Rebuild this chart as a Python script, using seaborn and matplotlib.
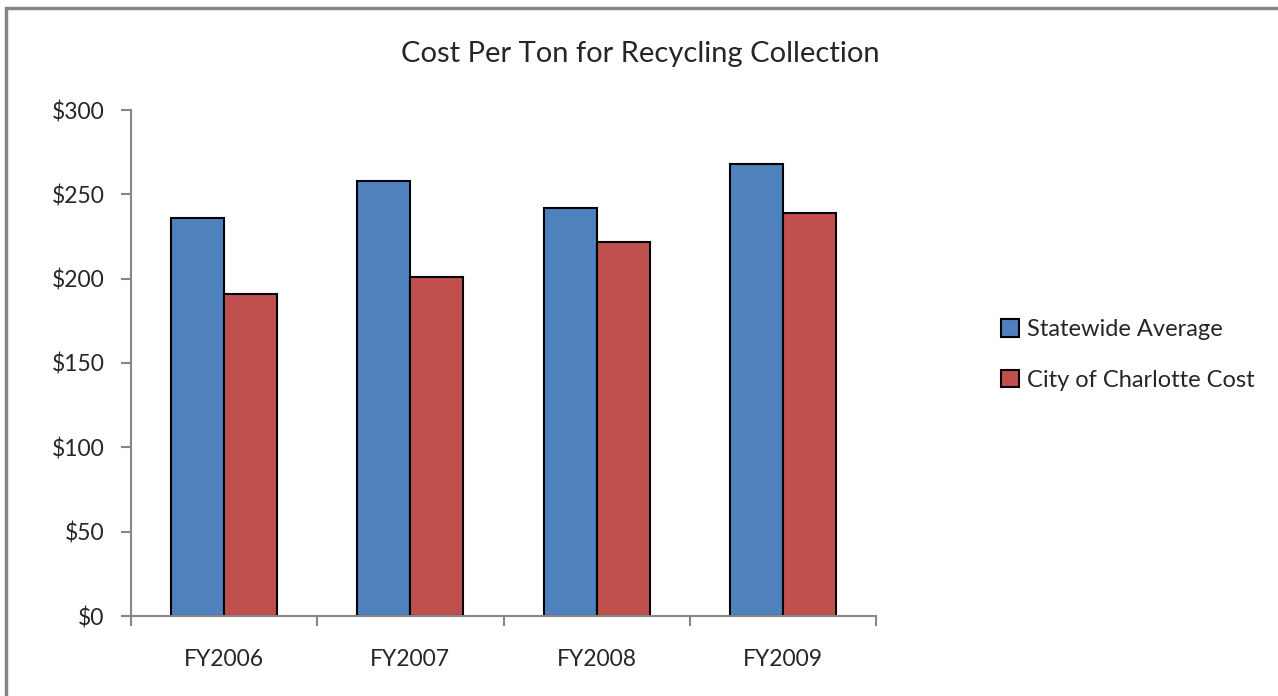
import matplotlib
matplotlib.use("Agg")
import matplotlib.pyplot as plt
import matplotlib.patches as mpatches
import seaborn as sns
import pandas as pd
import numpy as np

# Data
categories = ["FY2006", "FY2007", "FY2008", "FY2009"]
statewide = [236, 258, 242, 268]
charlotte = [191, 201, 222, 239]
series_names = ["Statewide Average", "City of Charlotte Cost"]
y_ticks = [0, 50, 100, 150, 200, 250, 300]

df = pd.DataFrame({
    "Year": categories * 2,
    "Cost": statewide + charlotte,
    "Series": [series_names[0]] * 4 + [series_names[1]] * 4,
})

sns.set_theme(style="white")
plt.rcParams["font.family"] = ["Lato", "DejaVu Sans"]

fig = plt.figure(figsize=(12.78, 6.96), dpi=100)
ax = fig.add_axes([131 / 1278, 80 / 696, 745 / 1278, 506 / 696])

palette = {series_names[0]: "#4F81BD", series_names[1]: "#C0504D"}
sns.barplot(data=df, x="Year", y="Cost", hue="Series", palette=palette,
            width=0.57, edgecolor="black", linewidth=1.5, saturation=1,
            ax=ax, legend=False)

ax.set_xlim(-0.5, 3.5)
ax.set_ylim(0, 300)
ax.set_yticks(y_ticks)
ax.set_yticklabels([f"${v}" for v in y_ticks], fontsize=16.5)
ax.set_xlabel("")
ax.set_ylabel("")
ax.tick_params(axis="x", which="major", length=0, pad=24, labelsize=16.5)
ax.set_xticks(np.arange(-0.5, 4.0, 1.0), minor=True)
ax.tick_params(axis="x", which="minor", length=7, width=1.5, color="#868686",
               direction="out", bottom=True)
ax.tick_params(axis="y", length=7, width=1.5, color="#868686", direction="out",
               left=True, pad=12)
for s in ["top", "right"]:
    ax.spines[s].set_visible(False)
for s in ["left", "bottom"]:
    ax.spines[s].set_color("#868686")
    ax.spines[s].set_linewidth(1.5)

fig.text(640 / 1278, 1 - 54 / 696, "Cost Per Ton for Recycling Collection",
         ha="center", va="center", fontsize=21)

handles = [mpatches.Patch(facecolor=palette[n], edgecolor="black", linewidth=1.5, label=n)
           for n in series_names]
fig.legend(handles=handles, loc="center left", bbox_to_anchor=(994 / 1278, 1 - 355 / 696),
           frameon=False, fontsize=17, handlelength=0.75, handleheight=0.75,
           handletextpad=0.35, labelspacing=1.25, borderaxespad=0, borderpad=0.3)

# Outer chart border (left and top visible)
fig.patches.append(mpatches.Rectangle((6 / 1278, -0.05), 1.2, 1 - 8 / 696 + 0.05,
                                      transform=fig.transFigure, fill=False,
                                      edgecolor="#868686", linewidth=2.5))

fig.savefig("out.png", dpi=100)
